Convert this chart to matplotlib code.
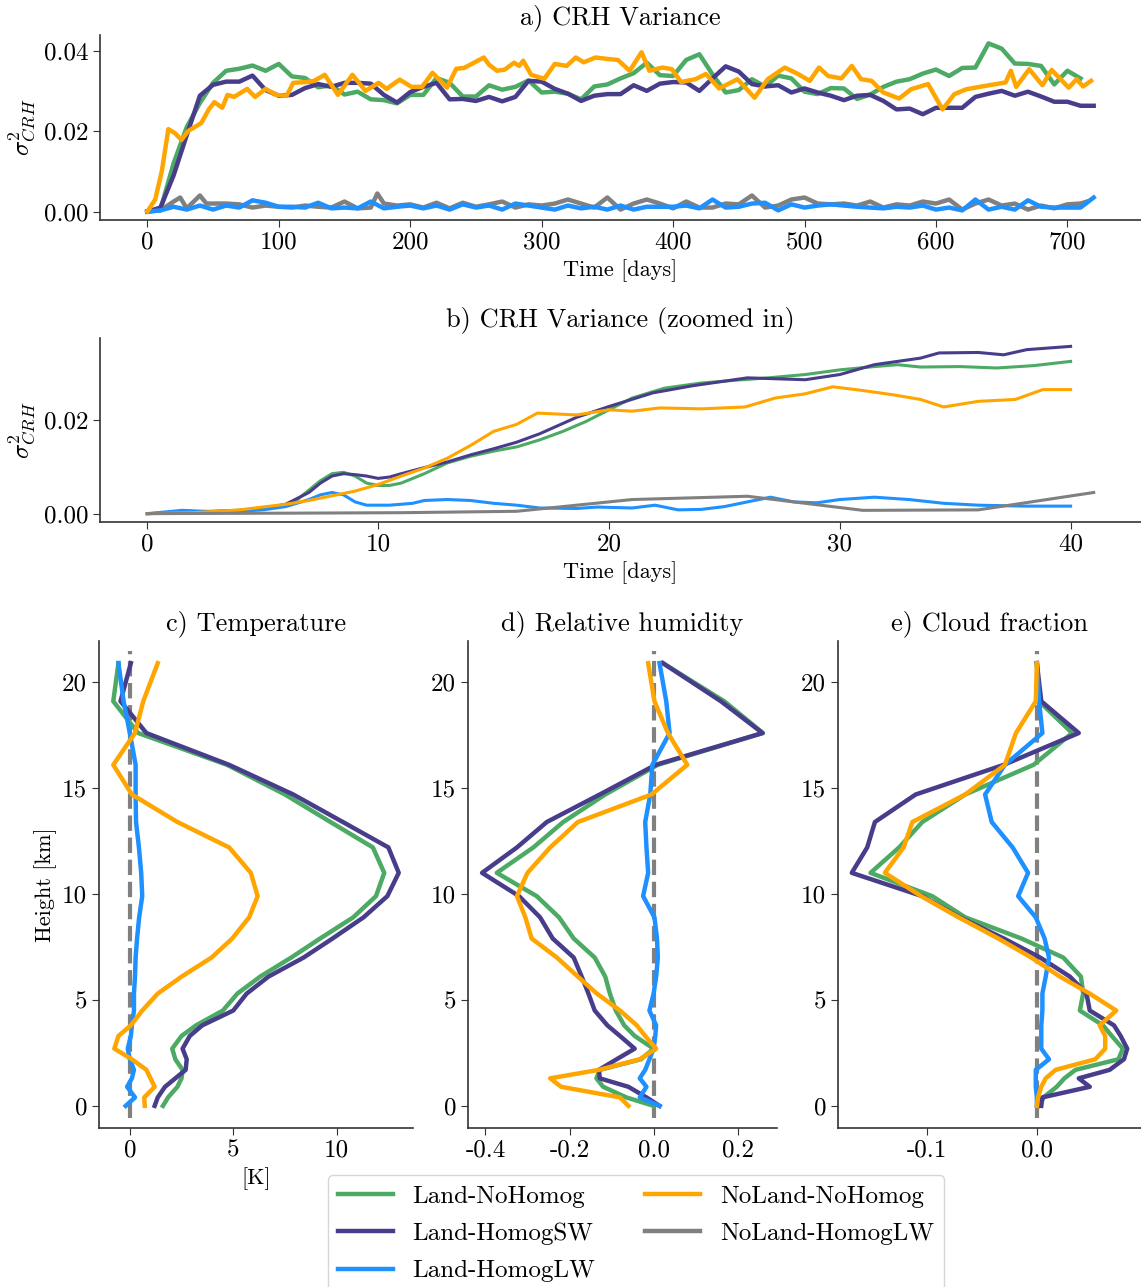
import numpy as np
import matplotlib
matplotlib.use("Agg")
import matplotlib.pyplot as plt

plt.rcParams["font.family"] = "serif"
plt.rcParams["font.serif"] = ["cmr10"]
plt.rcParams["mathtext.fontset"] = "cm"
plt.rcParams["axes.unicode_minus"] = False
plt.rcParams["axes.formatter.use_mathtext"] = False
plt.rcParams["font.size"] = 18
plt.rcParams["axes.edgecolor"] = "0.2"
plt.rcParams["axes.linewidth"] = 1.2
plt.rcParams["xtick.color"] = "0.2"
plt.rcParams["ytick.color"] = "0.2"
plt.rcParams["xtick.labelcolor"] = "black"
plt.rcParams["ytick.labelcolor"] = "black"
plt.rcParams["xtick.major.size"] = 5
plt.rcParams["ytick.major.size"] = 5

# nazwy eksperymentow i kolory
names = ["Land-NoHomog", "Land-HomogSW", "Land-HomogLW", "NoLand-NoHomog", "NoLand-HomogLW"]
colors = ["#4caa64", "#483d8b", "dodgerblue", "orange", "gray"]

# ---- a) wariancja CRH, cala symulacja (dni)
days_green = np.arange(0, 711, 10)
var_green = [0.0, 0.0005, 0.012, 0.021, 0.027, 0.032, 0.035, 0.0355, 0.0363, 0.035,
             0.0367, 0.0336, 0.0332, 0.0309, 0.0314, 0.0291, 0.0298, 0.0279, 0.0277, 0.0269,
             0.029, 0.029, 0.0332, 0.032, 0.0286, 0.0286, 0.0314, 0.0303, 0.031, 0.0326,
             0.0296, 0.0298, 0.0293, 0.0279, 0.0311, 0.0316, 0.0331, 0.0344, 0.037, 0.0339,
             0.0337, 0.0377, 0.0391, 0.0341, 0.0296, 0.0302, 0.0329, 0.0311, 0.0338, 0.0331,
             0.0298, 0.0292, 0.0307, 0.0306, 0.028, 0.0291, 0.031, 0.0323, 0.0329, 0.0343,
             0.0353, 0.0337, 0.0357, 0.0358, 0.0418, 0.0405, 0.0368, 0.0367, 0.0362, 0.0316,
             0.035, 0.0331]

days_purple = np.arange(0, 721, 10)
var_purple = [0.0, 0.001, 0.009, 0.019, 0.0288, 0.0315, 0.0323, 0.0323, 0.0338, 0.0302,
              0.0288, 0.029, 0.0307, 0.0317, 0.031, 0.032, 0.032, 0.0318, 0.029, 0.0271,
              0.0297, 0.031, 0.032, 0.0279, 0.028, 0.0275, 0.0285, 0.0274, 0.0285, 0.0325,
              0.0323, 0.0305, 0.0293, 0.0275, 0.0288, 0.0292, 0.0292, 0.0314, 0.030, 0.0318,
              0.0322, 0.0321, 0.030, 0.0331, 0.0361, 0.0348, 0.0317, 0.0311, 0.0314, 0.0296,
              0.0306, 0.0296, 0.0288, 0.0277, 0.0288, 0.029, 0.0275, 0.0254, 0.0256, 0.0242,
              0.0258, 0.0258, 0.0258, 0.0285, 0.0293, 0.030, 0.0288, 0.0298, 0.0286, 0.0273,
              0.0273, 0.0263, 0.0263]

days_lw = np.arange(0, 721, 10)
var_lw = [0.0, 0.0003, 0.0012, 0.0005, 0.0015, 0.0005, 0.0015, 0.001, 0.0028, 0.0022,
          0.0012, 0.0012, 0.001, 0.0022, 0.0008, 0.001, 0.0008, 0.0025, 0.0008, 0.0012,
          0.0015, 0.0008, 0.0015, 0.0005, 0.0018, 0.001, 0.0015, 0.0005, 0.002, 0.0015,
          0.001, 0.0005, 0.0015, 0.0008, 0.0012, 0.0005, 0.0015, 0.0005, 0.0012, 0.0012,
          0.0012, 0.0015, 0.0008, 0.003, 0.001, 0.0012, 0.002, 0.0022, 0.0003, 0.0018,
          0.001, 0.0015, 0.0018, 0.0015, 0.0012, 0.001, 0.0008, 0.0012, 0.001, 0.0015,
          0.0005, 0.001, 0.0003, 0.003, 0.0005, 0.0012, 0.0005, 0.0028, 0.0012, 0.001,
          0.001, 0.001, 0.0035]

days_orange = [0, 6, 11, 16, 21, 26, 31, 41, 47, 51, 57, 61, 66, 76, 82, 90, 98, 106, 111,
               121, 127, 135, 145, 156, 166, 176, 182, 192, 201, 209, 217, 228, 235, 241,
               256, 260, 266, 272, 279, 283, 286, 292, 302, 310, 319, 326, 332, 341, 351,
               358, 367, 376, 382, 392, 399, 406, 417, 425, 435, 449, 462, 472, 485, 495,
               504, 511, 518, 528, 536, 543, 551, 560, 572, 581, 594, 605, 614, 623, 635,
               646, 653, 657, 661, 671, 681, 688, 701, 707, 712, 718]
var_orange = [0.0, 0.003, 0.010, 0.0205, 0.0195, 0.0178, 0.020, 0.022, 0.0255, 0.0272,
              0.0258, 0.029, 0.0285, 0.0305, 0.0285, 0.0305, 0.029, 0.0288, 0.032, 0.0322,
              0.0325, 0.034, 0.029, 0.034, 0.030, 0.032, 0.0305, 0.0328, 0.031, 0.031,
              0.0345, 0.0308, 0.0355, 0.0357, 0.0383, 0.0365, 0.035, 0.0353, 0.037, 0.0362,
              0.0375, 0.034, 0.033, 0.0367, 0.0362, 0.0383, 0.0371, 0.0383, 0.0379, 0.0377,
              0.035, 0.0396, 0.035, 0.0358, 0.0354, 0.0322, 0.0329, 0.0342, 0.0306, 0.0329,
              0.0283, 0.0329, 0.0358, 0.0342, 0.0325, 0.0358, 0.0337, 0.0331, 0.0362, 0.0329,
              0.0325, 0.0296, 0.0281, 0.0304, 0.0317, 0.0254, 0.0292, 0.0304, 0.0311, 0.0317,
              0.0321, 0.035, 0.031, 0.0354, 0.0314, 0.0352, 0.0308, 0.0329, 0.0311, 0.0325]

days_gray = [0, 10, 20, 25, 30, 40, 45, 60, 70, 80, 90, 100, 110, 120, 130, 140, 150, 160,
             170, 175, 180, 190, 200, 210, 220, 230, 240, 250, 260, 270, 280, 290, 300, 310,
             320, 330, 340, 350, 360, 370, 380, 390, 400, 410, 420, 430, 440, 450, 460, 470,
             480, 490, 500, 510, 520, 530, 540, 550, 560, 570, 580, 590, 600, 610, 620, 630,
             640, 650, 660, 670, 680, 690, 700, 710, 715]
var_gray = [0.0, 0.0003, 0.0025, 0.0035, 0.0008, 0.004, 0.002, 0.002, 0.0018, 0.001,
            0.0015, 0.0012, 0.001, 0.0015, 0.0012, 0.001, 0.0025, 0.0008, 0.001, 0.0045,
            0.002, 0.0015, 0.0018, 0.001, 0.0022, 0.0008, 0.0022, 0.0012, 0.0018, 0.0025,
            0.001, 0.0018, 0.0015, 0.002, 0.003, 0.002, 0.001, 0.0035, 0.0005, 0.002,
            0.003, 0.002, 0.0008, 0.0025, 0.001, 0.001, 0.002, 0.0018, 0.004, 0.001,
            0.0015, 0.003, 0.0035, 0.002, 0.0018, 0.002, 0.0015, 0.0025, 0.001, 0.0018,
            0.0015, 0.0025, 0.002, 0.003, 0.0005, 0.002, 0.003, 0.0015, 0.002, 0.0005,
            0.0015, 0.0008, 0.0018, 0.002, 0.0025]

# ---- b) wariancja CRH, pierwsze 40 dni
tb_green = [0, 2, 4, 5, 6, 6.5, 7, 7.5, 8, 8.5, 9, 9.5, 10, 10.5, 11, 12, 13, 14, 15, 16,
            17, 18, 19, 20, 21, 22.4, 24, 25.5, 26.9, 28.5, 30, 31.5, 32.5, 33.5, 35.2,
            36.8, 38.4, 40]
vb_green = [0.0, 0.0002, 0.0007, 0.001, 0.002, 0.003, 0.005, 0.007, 0.0085, 0.0088, 0.008,
            0.0065, 0.006, 0.006, 0.0065, 0.0085, 0.0108, 0.0122, 0.0133, 0.0142, 0.0157,
            0.0175, 0.0196, 0.0221, 0.0246, 0.0267, 0.0278, 0.0284, 0.0289, 0.0296, 0.0306,
            0.0313, 0.0317, 0.0312, 0.0313, 0.031, 0.0315, 0.0324]

tb_purple = [0, 2, 4, 5, 6, 7, 7.5, 8, 8.5, 9, 9.5, 10, 10.5, 11, 12, 13, 14, 15, 16, 17,
             18.6, 20, 21.9, 23.6, 26, 28.5, 30, 31.5, 33.5, 34.3, 36, 37.1, 38.1, 40]
vb_purple = [0.0, 0.0003, 0.0007, 0.001, 0.002, 0.0045, 0.0065, 0.008, 0.0085, 0.0083,
             0.008, 0.0075, 0.0078, 0.0085, 0.0098, 0.011, 0.0125, 0.0138, 0.0152, 0.017,
             0.0205, 0.0228, 0.0257, 0.0272, 0.0289, 0.0285, 0.0296, 0.0317, 0.0331, 0.0342,
             0.0343, 0.0338, 0.0349, 0.0356]

tb_lw = [0, 1.5, 2.5, 4, 5, 6, 7, 7.5, 8, 8.5, 9, 9.5, 10.5, 11.5, 12, 13, 14, 15, 16, 17,
         18.6, 19.5, 21, 22, 23, 24, 25, 26, 27, 28, 29, 30, 31.5, 33, 34.5, 36, 38, 40]
vb_lw = [0.0, 0.0007, 0.0005, 0.0005, 0.0008, 0.0015, 0.003, 0.004, 0.0045, 0.004, 0.0025,
         0.0018, 0.0018, 0.0022, 0.0028, 0.003, 0.0028, 0.0022, 0.0018, 0.0012, 0.0011,
         0.0014, 0.0012, 0.0018, 0.0008, 0.0009, 0.0015, 0.0025, 0.0035, 0.0025, 0.0023,
         0.003, 0.0035, 0.003, 0.0022, 0.0018, 0.0016, 0.0016]

tb_orange = [0, 2, 4, 6, 7, 8, 9, 10, 11, 12, 13, 14, 15, 16, 16.9, 18.6, 20, 21, 22.2, 24,
             25.9, 27.2, 28.5, 29.7, 31, 32.3, 33.5, 34.5, 36, 37.6, 38.8, 40]
vb_orange = [0.0, 0.0002, 0.0008, 0.002, 0.0028, 0.0038, 0.0048, 0.0062, 0.008, 0.0097,
             0.0118, 0.0145, 0.0175, 0.019, 0.0214, 0.021, 0.0221, 0.0218, 0.0225, 0.0223,
             0.0227, 0.0246, 0.0255, 0.027, 0.0262, 0.0253, 0.0243, 0.0227, 0.0239, 0.0243,
             0.0264, 0.0264]

tb_gray = [0, 6, 11, 16, 21, 26, 31, 36, 41]
vb_gray = [0.0, 0.0001, 0.0002, 0.0005, 0.003, 0.0037, 0.0007, 0.0008, 0.0045]

# ---- c-e) profile pionowe (roznice wzgledem kontroli)
height = [0.0, 0.4, 0.9, 1.3, 1.7, 2.2, 2.7, 3.3, 3.8, 4.5, 5.3, 6.1, 7.0, 7.9, 8.9, 9.9,
          11.0, 12.2, 13.4, 14.7, 16.1, 17.6, 19.1, 20.9]

temp_green = [1.6, 1.85, 2.3, 2.5, 2.55, 2.2, 2.05, 2.5, 3.2, 4.5, 5.2, 6.3, 7.8, 9.2, 10.8,
              11.9, 12.3, 11.75, 9.7, 7.5, 4.7, 0.4, -0.8, -0.55]
temp_purple = [1.2, 1.35, 1.7, 2.2, 2.7, 2.75, 2.55, 2.9, 3.5, 5.0, 5.65, 6.7, 8.4, 9.8, 11.3,
               12.45, 13.0, 12.5, 10.3, 7.9, 4.8, 0.8, -0.45, 0.05]
temp_lw = [-0.2, 0.25, -0.13, 0.1, 0.2, 0.0, -0.1, 0.05, 0.1, 0.2, 0.2, 0.25, 0.28, 0.35,
           0.45, 0.6, 0.55, 0.44, 0.3, 0.28, 0.28, 0.0, -0.3, -0.55]
temp_orange = [0.72, 0.7, 1.2, 1.0, 0.8, 0.1, -0.75, -0.55, 0.05, 0.6, 1.35, 2.5, 3.95, 4.95,
               5.77, 6.18, 5.85, 4.8, 2.3, 0.1, -0.8, 0.25, 0.65, 1.35]

rh_green = [0.0, -0.065, -0.12, -0.136, -0.128, -0.03, 0.0, -0.045, -0.07, -0.09, -0.104,
            -0.115, -0.14, -0.19, -0.225, -0.278, -0.373, -0.286, -0.215, -0.115, 0.01,
            0.26, 0.168, 0.022]
rh_purple = [0.014, -0.017, -0.06, -0.128, -0.13, -0.088, -0.045, -0.08, -0.11, -0.14,
             -0.155, -0.171, -0.19, -0.24, -0.27, -0.32, -0.408, -0.325, -0.254, -0.128,
             0.005, 0.259, 0.16, 0.022]
rh_lw = [0.014, -0.033, -0.017, -0.033, -0.02, -0.01, 0.0, 0.004, 0.006, -0.01, 0.0, 0.006,
         0.01, 0.008, 0.002, -0.025, -0.013, -0.017, -0.02, -0.008, -0.003, 0.038, 0.03,
         0.014]
rh_orange = [-0.06, -0.08, -0.22, -0.246, -0.13, -0.033, 0.006, -0.02, -0.04, -0.08, -0.135,
             -0.18, -0.23, -0.29, -0.305, -0.325, -0.30, -0.246, -0.18, -0.005, 0.08, 0.034,
             0.002, -0.013]

cf_green = [0.002, 0.006, 0.018, 0.025, 0.035, 0.074, 0.078, 0.068, 0.06, 0.039, 0.042, 0.04,
            0.024, -0.014, -0.065, -0.095, -0.151, -0.125, -0.104, -0.065, -0.003, 0.032,
            0.002, 0.0]
cf_purple = [0.004, 0.005, 0.048, 0.038, 0.066, 0.079, 0.082, 0.076, 0.07, 0.048, 0.045,
             0.03, 0.003, -0.03, -0.07, -0.104, -0.168, -0.154, -0.147, -0.11, -0.03, 0.038,
             0.004, 0.0]
cf_lw = [0.0, 0.0, -0.001, -0.001, -0.001, 0.011, 0.004, 0.004, 0.004, 0.005, 0.005, 0.008,
         0.011, 0.007, -0.001, -0.017, -0.008, -0.022, -0.041, -0.047, -0.029, 0.005, 0.002,
         0.0]
cf_orange = [0.0, 0.001, 0.004, 0.008, 0.017, 0.053, 0.062, 0.062, 0.057, 0.072, 0.048,
             0.021, -0.005, -0.035, -0.071, -0.105, -0.138, -0.121, -0.113, -0.065, -0.029,
             -0.019, -0.001, 0.0]


def despine(ax):
    ax.spines["top"].set_visible(False)
    ax.spines["right"].set_visible(False)


fig = plt.figure(figsize=(11.41, 12.87), dpi=100)
W, H = 1141.0, 1287.0


def box(x0, y0, x1, y1):
    # wspolrzedne w pikselach (od gory) -> ulamki figury
    return [x0 / W, 1 - y1 / H, (x1 - x0) / W, (y1 - y0) / H]


ax_a = fig.add_axes(box(100, 35, 1141, 220))
ax_b = fig.add_axes(box(100, 338, 1141, 522))
ax_c = fig.add_axes(box(99, 641, 413, 1128))
ax_d = fig.add_axes(box(468, 641, 777, 1128))
ax_e = fig.add_axes(box(838, 641, 1141, 1128))

title_fs = 19

# a)
lw_a = 3.2
handles = []
handles += ax_a.plot(days_green, var_green, color=colors[0], lw=lw_a, label=names[0])
handles += ax_a.plot(days_purple, var_purple, color=colors[1], lw=lw_a, label=names[1])
ax_a.plot(days_gray, var_gray, color=colors[4], lw=lw_a, zorder=1.9)
handles += ax_a.plot(days_lw, var_lw, color=colors[2], lw=lw_a, label=names[2])
handles += ax_a.plot(days_orange, var_orange, color=colors[3], lw=lw_a, label=names[3])
ax_a.set_title("a) CRH Variance", fontsize=title_fs, pad=8)
ax_a.set_xlabel("Time [days]", fontsize=16)
ax_a.set_ylabel(r"$\sigma^2_{CRH}$", fontsize=18)
ax_a.set_xticks(range(0, 701, 100))
ax_a.set_yticks([0.0, 0.02, 0.04])
ax_a.set_yticklabels(["0.00", "0.02", "0.04"])
despine(ax_a)

# b)
lw_b = 2.2
ax_b.plot(tb_green, vb_green, color=colors[0], lw=lw_b)
ax_b.plot(tb_purple, vb_purple, color=colors[1], lw=lw_b)
ax_b.plot(tb_lw, vb_lw, color=colors[2], lw=lw_b)
ax_b.plot(tb_orange, vb_orange, color=colors[3], lw=lw_b)
ax_b.plot(tb_gray, vb_gray, color=colors[4], lw=lw_b)
ax_b.set_title("b) CRH Variance (zoomed in)", fontsize=title_fs, pad=8)
ax_b.set_xlabel("Time [days]", fontsize=16)
ax_b.set_ylabel(r"$\sigma^2_{CRH}$", fontsize=18)
ax_b.set_xticks(range(0, 41, 10))
ax_b.set_yticks([0.0, 0.02])
ax_b.set_yticklabels(["0.00", "0.02"])
despine(ax_b)

# c) - e)
lw_p = 3.2
profiles = [
    (ax_c, [temp_green, temp_purple, temp_lw, temp_orange], "c) Temperature"),
    (ax_d, [rh_green, rh_purple, rh_lw, rh_orange], "d) Relative humidity"),
    (ax_e, [cf_green, cf_purple, cf_lw, cf_orange], "e) Cloud fraction"),
]
for ax, series, title in profiles:
    for vals, col in zip(series, colors[:4]):
        ax.plot(vals, height, color=col, lw=lw_p)
    ax.axvline(0, color="gray", ls="--", lw=3, ymin=0.02, ymax=0.98, zorder=0.5)
    ax.set_title(title, fontsize=title_fs, pad=8)
    ax.set_yticks([0, 5, 10, 15, 20])
    despine(ax)

ax_c.set_xticks([0, 5, 10])
ax_c.set_xlabel("[K]", fontsize=16)
ax_c.set_ylabel("Height [km]", fontsize=16)
ax_d.set_xticks([-0.4, -0.2, 0.0, 0.2])
ax_d.set_xticklabels(["-0.4", "-0.2", "0.0", "0.2"])
ax_e.set_xticks([-0.1, 0.0])
ax_e.set_xticklabels(["-0.1", "0.0"])

gray_handle = plt.Line2D([], [], color=colors[4], lw=lw_a, label=names[4])
handles.append(gray_handle)
fig.legend(handles=handles, labels=names, ncol=2, loc="upper center",
           bbox_to_anchor=(636 / W, 1 - 1175 / H), borderaxespad=0, fontsize=18,
           frameon=True, edgecolor="0.8", fancybox=True, labelspacing=0.6,
           columnspacing=2.0, handlelength=2.2, borderpad=0.4)

fig.savefig("out.png", dpi=100)
